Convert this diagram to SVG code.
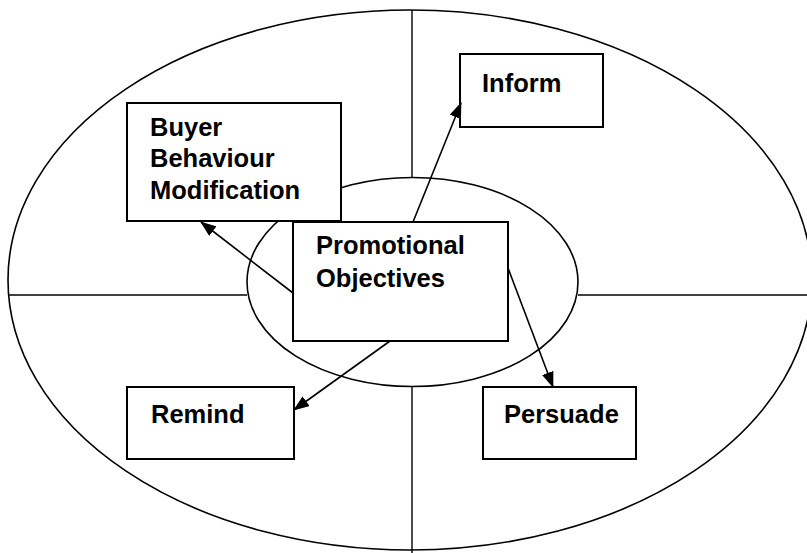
<svg xmlns="http://www.w3.org/2000/svg" width="807" height="553" viewBox="0 0 807 553">
<style>
.ring{fill:none;stroke:#000;stroke-width:1.6}
.axis{stroke:#000;stroke-width:1.4;fill:none}
.box{fill:#fff;stroke:#000;stroke-width:2}
.lbl{font-family:"Liberation Sans",Arial,sans-serif;font-weight:bold;font-size:25.5px;fill:#000}
.conn{stroke:#000;stroke-width:1.6;fill:none;marker-end:url(#ah)}
</style>
<defs>
<marker id="ah" viewBox="0 0 16 12" refX="15" refY="6" markerWidth="16" markerHeight="12" markerUnits="userSpaceOnUse" orient="auto">
<path d="M0,0 L16,6 L0,12 Z" fill="#000"/>
</marker>
</defs>
<rect width="807" height="553" fill="#fff"/>
<g id="background">
<ellipse class="ring" cx="410" cy="280" rx="402" ry="270"/>
<ellipse class="ring" cx="412.5" cy="282" rx="165.5" ry="104.5"/>
<line class="axis" x1="412" y1="10" x2="412" y2="178"/>
<line class="axis" x1="412" y1="386" x2="412" y2="553"/>
<line class="axis" x1="8" y1="295" x2="247" y2="295"/>
<line class="axis" x1="578" y1="295" x2="807" y2="295"/>
</g>
<g id="node-buyer">
<rect class="box" x="127" y="103" width="214" height="118"/>
<text class="lbl" x="150" y="136">Buyer</text>
<text class="lbl" x="150" y="167">Behaviour</text>
<text class="lbl" x="150" y="199">Modification</text>
</g>
<g id="node-promotional">
<rect class="box" x="293" y="222" width="215" height="119"/>
<text class="lbl" x="316" y="254">Promotional</text>
<text class="lbl" x="316" y="287">Objectives</text>
</g>
<g id="node-inform">
<rect class="box" x="460" y="54" width="143" height="73"/>
<text class="lbl" x="482" y="92">Inform</text>
</g>
<g id="node-remind">
<rect class="box" x="127" y="387" width="167" height="72"/>
<text class="lbl" x="151" y="423">Remind</text>
</g>
<g id="node-persuade">
<rect class="box" x="483" y="387" width="153" height="72"/>
<text class="lbl" x="504" y="423">Persuade</text>
</g>
<g id="connectors">
<line class="conn" x1="293" y1="293" x2="201" y2="222"/>
<line class="conn" x1="413" y1="222" x2="461" y2="103"/>
<line class="conn" x1="508" y1="268" x2="553" y2="387"/>
<line class="conn" x1="390" y1="341" x2="294" y2="410"/>
</g>
</svg>
